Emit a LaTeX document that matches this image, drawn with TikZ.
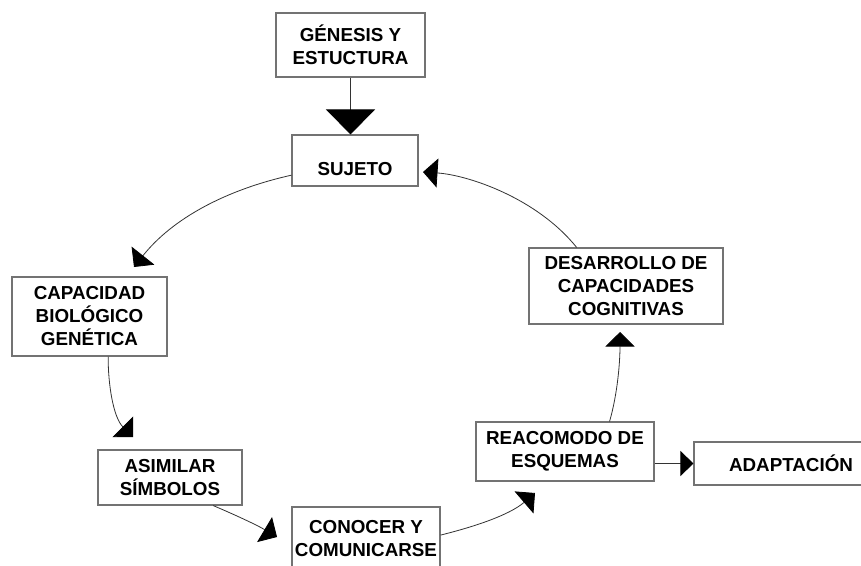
\documentclass[tikz,border=0pt]{standalone}
\usepackage{fontspec}
\setmainfont{Liberation Sans}
\usetikzlibrary{arrows.meta}
\begin{document}
\begin{tikzpicture}[x=1pt,y=-1pt,
  box/.style={draw=black!55, line width=1.1pt, fill=white, inner sep=0pt, align=center,
    font=\fontsize{18.8}{23}\selectfont\bfseries},
  conn/.style={draw=black!80, line width=0.8pt, -{Triangle[length=14.5pt,width=29pt,color=black]}},
]
\useasboundingbox (0,0) rectangle (861,565);
\clip (0,0) rectangle (861,565);
\fill[white] (0,0) rectangle (861,565);

% boxes of the cycle
\node[box, minimum width=149pt, minimum height=64pt] (gen) at (350.5,45) {GÉNESIS Y\\ESTUCTURA};
\node[box, minimum width=126pt, minimum height=51pt, text height=29pt, text depth=0pt] (suj) at (355,160.5) {SUJETO};
\node[box, minimum width=155pt, minimum height=79pt] (cap) at (89.5,316.5) {CAPACIDAD\\BIOLÓGICO\\GENÉTICA};
\node[box, minimum width=144pt, minimum height=55pt] (asi) at (170,477.5) {ASIMILAR\\SÍMBOLOS};
\node[box, minimum width=148pt, minimum height=64pt] (con) at (366,539) {CONOCER Y\\COMUNICARSE};
\node[box, minimum width=178pt, minimum height=59pt] (rea) at (565,451.5) {REACOMODO DE\\ESQUEMAS};
\node[box, minimum width=194pt, minimum height=43pt] (ada) at (791,463.5) {ADAPTACIÓN};
\node[box, minimum width=194pt, minimum height=76pt] (des) at (626,286) {DESARROLLO DE\\CAPACIDADES\\COGNITIVAS};

% free ends of the curved arrows
\coordinate (t1) at (134,267);
\coordinate (t2) at (133,437);
\coordinate (t3) at (277,537);
\coordinate (t4) at (535,493);
\coordinate (t5) at (620,332);
\coordinate (t6) at (423,172);

% straight arrows
\draw[conn, -{Triangle[length=25pt,width=49pt,color=black]}] (gen.south) -- (gen.south |- suj.north);
\draw[conn, -{Triangle[length=13pt,width=25pt,color=black]}] (rea.east |- ada.west) -- (ada.west);

% the cycle
\draw[conn] (suj.193) .. controls (225,190) and (172,219) .. (t1);
\draw[conn] (cap.295) .. controls (108,384) and (113.2,417.2) .. (t2);
\draw[conn] (asi.327) .. controls (234,514.4) and (256.4,524.7) .. (t3);
\draw[conn] (con.3) .. controls (475,526.5) and (509.2,515.1) .. (t4);
\draw[conn] (rea.34) .. controls (617.6,393.5) and (620,362) .. (t5);
\draw[conn] (des.142) .. controls (537,198) and (468,175) .. (t6);
\end{tikzpicture}
\end{document}
